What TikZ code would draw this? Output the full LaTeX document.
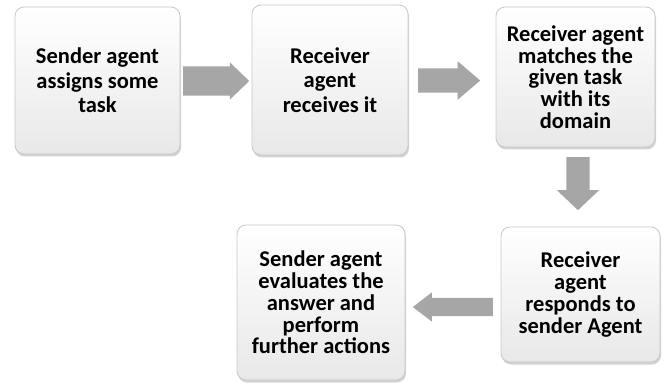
\documentclass[tikz,border=0pt]{standalone}
\usepackage{fontspec}
\setmainfont{Carlito}
\usetikzlibrary{shapes.arrows,shadows}
\definecolor{boxline}{RGB}{200,200,200}
\definecolor{boxfoot}{RGB}{232,232,232}
\definecolor{arrowgray}{RGB}{166,166,166}
\tikzset{
  stepbox/.style={rectangle, rounded corners=9pt, draw=boxline, line width=0.8pt,
    top color=white, bottom color=boxfoot, align=center, inner sep=0pt,
    font=\bfseries\fontsize{22.5}{21.7}\selectfont,
    drop shadow={opacity=0.35, shadow xshift=1pt, shadow yshift=-2.5pt}},
  widelines/.style={font=\bfseries\fontsize{22.5}{24.5}\selectfont},
  flowarrow/.style={single arrow, fill=arrowgray, draw=none, inner xsep=0pt,
    single arrow head indent=0pt, anchor=tail}
}
\begin{document}
\begin{tikzpicture}[x=1pt,y=-1pt]
\useasboundingbox (0,0) rectangle (665,385);
% process boxes
\node[stepbox, widelines, minimum width=165pt, minimum height=147pt] (send) at (97.5,80.5)
  {Sender agent\\assigns some\\task};
\node[stepbox, widelines, minimum width=156pt, minimum height=150pt] (recv) at (330,80)
  {Receiver\\agent\\receives it};
\node[stepbox, minimum width=159pt, minimum height=140pt] (match) at (575.5,77)
  {Receiver agent\\matches the\\given task\\with its\\domain};
\node[stepbox, minimum width=159pt, minimum height=135pt] (resp) at (580.5,294.5)
  {Receiver\\agent\\responds to\\sender Agent};
\node[stepbox, minimum width=168pt, minimum height=155pt] (eval) at (321,302.5)
  {Sender agent\\evaluates the\\answer and\\perform\\further actions};
% block arrows between the boxes, placed by their tails
\node[flowarrow, minimum height=66pt, inner ysep=14.5pt, single arrow head extend=4pt,
  single arrow tip angle=88] (a1) at (183,81) {};
\node[flowarrow, minimum height=62pt, inner ysep=12pt, single arrow head extend=7pt,
  single arrow tip angle=81] (a2) at (418,80.5) {};
\node[flowarrow, minimum height=53pt, inner ysep=11.5pt, single arrow head extend=9.5pt,
  single arrow tip angle=93, rotate=-90] (a3) at (578,157) {};
\node[flowarrow, minimum height=80pt, inner ysep=9pt, single arrow head extend=5.5pt,
  single arrow tip angle=75, rotate=180] (a4) at (493,307) {};
\end{tikzpicture}
\end{document}
